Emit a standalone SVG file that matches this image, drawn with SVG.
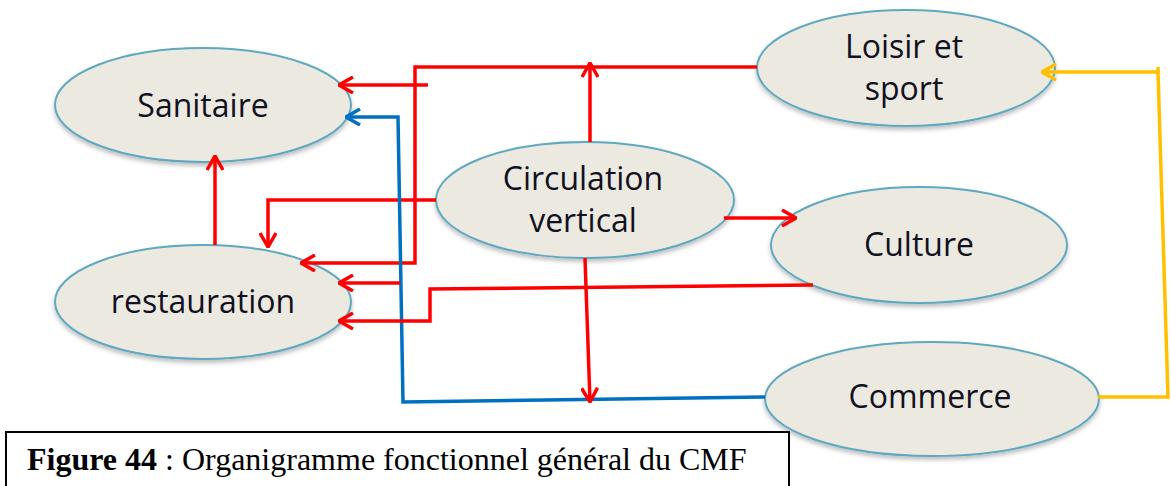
<svg xmlns="http://www.w3.org/2000/svg" width="1171" height="486" viewBox="0 0 1171 486">
<defs>
<style>
.node ellipse{fill:#ECEAE0;stroke:#5FA8C0;stroke-width:2;filter:url(#sh)}
.node text{font-family:"Open Sans",Lato,sans-serif;font-size:32px;fill:#111122;text-anchor:middle}
.r{fill:none;stroke:#FF0000;stroke-width:3.5}
.b{fill:none;stroke:#0070C0;stroke-width:3.5}
.y{fill:none;stroke:#FFC000;stroke-width:3.5}
</style>
<filter id="sh" x="-10%" y="-10%" width="120%" height="130%">
<feDropShadow dx="0" dy="3" stdDeviation="2" flood-color="#000" flood-opacity="0.25"/>
</filter>
<marker id="ar" viewBox="0 0 16 18" refX="15" refY="9" markerWidth="16" markerHeight="18" markerUnits="userSpaceOnUse" orient="auto">
<path d="M1,1 L15,9 L1,17" fill="none" stroke="#FF0000" stroke-width="3.5"/>
</marker>
<marker id="ab" viewBox="0 0 16 18" refX="15" refY="9" markerWidth="16" markerHeight="18" markerUnits="userSpaceOnUse" orient="auto">
<path d="M1,1 L15,9 L1,17" fill="none" stroke="#0070C0" stroke-width="3.5"/>
</marker>
<marker id="ay" viewBox="0 0 16 18" refX="15" refY="9" markerWidth="16" markerHeight="18" markerUnits="userSpaceOnUse" orient="auto">
<path d="M1,1 L15,9 L1,17" fill="none" stroke="#FFC000" stroke-width="3.5"/>
</marker>
</defs>
<rect width="1171" height="486" fill="#FFFFFF"/>
<g id="sanitaire" class="node">
<ellipse cx="203" cy="105" rx="148" ry="57"/>
<text x="203" y="117">Sanitaire</text>
</g>
<g id="restauration" class="node">
<ellipse cx="203" cy="302" rx="148" ry="57"/>
<text x="203" y="313">restauration</text>
</g>
<g id="circulation" class="node">
<ellipse cx="585" cy="200" rx="149" ry="58"/>
<text x="583" y="190">Circulation</text>
<text x="583" y="232">vertical</text>
</g>
<g id="loisir" class="node">
<ellipse cx="906" cy="68" rx="149" ry="58"/>
<text x="904" y="58">Loisir et</text>
<text x="904" y="100">sport</text>
</g>
<g id="culture" class="node">
<ellipse cx="919" cy="245" rx="148" ry="58"/>
<text x="919" y="256">Culture</text>
</g>
<g id="commerce" class="node">
<ellipse cx="932" cy="399" rx="167" ry="57"/>
<text x="930" y="408">Commerce</text>
</g>
<g id="connectors">
<path class="r" d="M757,67 H415 V263 H301" marker-end="url(#ar)"/>
<path class="r" d="M590,142 V63" marker-end="url(#ar)"/>
<path class="r" d="M428,85 H339" marker-end="url(#ar)"/>
<path class="r" d="M436,200 H268 V247" marker-end="url(#ar)"/>
<path class="r" d="M215,245 V156" marker-end="url(#ar)"/>
<path class="b" d="M765,397 L403,402 L398,117 H346" marker-end="url(#ab)"/>
<path class="r" d="M400,283 H339" marker-end="url(#ar)"/>
<path class="r" d="M813,285 L430,289 V321 H339" marker-end="url(#ar)"/>
<path class="r" d="M724,218 H796" marker-end="url(#ar)"/>
<path class="r" d="M585,258 L590,402" marker-end="url(#ar)"/>
<path class="y" d="M1098,397 H1168 L1158,72 H1042" marker-end="url(#ay)"/>
<path class="y" d="M1158,67 V72"/>
</g>
<g id="caption">
<rect x="6" y="432" width="783" height="70" fill="#FFFFFF" stroke="#000000" stroke-width="2"/>
<text x="27" y="470" font-family="'Liberation Serif',serif" font-size="32" fill="#000"><tspan font-weight="bold">Figure 44</tspan> : Organigramme fonctionnel général du CMF</text>
</g>
</svg>
